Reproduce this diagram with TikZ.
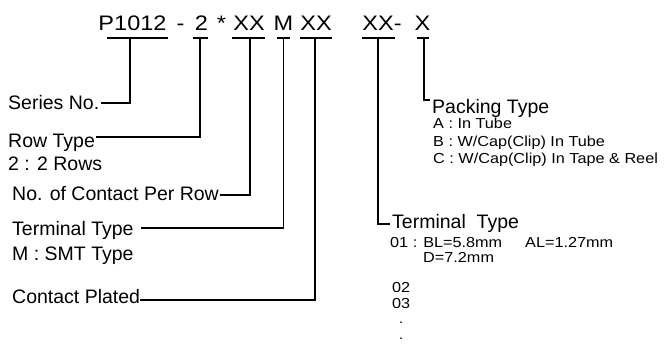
\documentclass[tikz,border=0pt]{standalone}
\usepackage{fontspec}
\usepackage{graphicx}
\setmainfont{Liberation Sans}
\usetikzlibrary{calc}
\newcommand\wideit[1]{\scalebox{1.12}[1]{#1}}
\begin{document}
\begin{tikzpicture}[x=1pt,y=-1pt,
  lbl/.style={font=\fontsize{19.5}{20}\selectfont, inner sep=0pt, anchor=base west},
  code/.style={font=\fontsize{21}{22}\selectfont, inner sep=0pt, anchor=base},
  sm/.style={font=\fontsize{14.5}{15}\selectfont, inner sep=0pt, anchor=base west},
  ln/.style={line width=1.35pt, black}]
\fill[white] (0,0) rectangle (667,354);
\useasboundingbox (0,0) rectangle (667,354);
% code line
\node[code] (p) at (132.5,30) {\wideit{P1012}};
\node[code] (d1) at (180.5,30) {\wideit{-}};
\node[code] (n2) at (201.5,30) {\wideit{2}};
\node[code] (st) at (221.5,30) {\wideit{*}};
\node[code] (xx1) at (249,30) {\wideit{XX}};
\node[code] (m) at (283.5,30) {\wideit{M}};
\node[code] (xx2) at (316,30) {\wideit{XX}};
\node[code] (xx3) at (382,30) {\wideit{XX-}};
\node[code] (x) at (422.5,30) {\wideit{X}};
% underlines
\draw[ln] (107,38) -- (168,38);
\draw[ln] (193,38) -- (208,38);
\draw[ln] (232,38) -- (265,38);
\draw[ln] (277,38) -- (290,38);
\draw[ln] (300,38) -- (332,38);
\draw[ln] (362,38) -- (395,38);
\draw[ln] (417,38) -- (429,38);
% left labels
\node[lbl] (s1) at (8,109) {Series No.};
\node[lbl] (s2) at (8,147) {Row Type};
\node[lbl] (s2b) at (8,170) {2 : 2 Rows};
\node[lbl] (s3) at (12,200) {No. of Contact Per Row};
\node[lbl] (s4) at (12,235) {Terminal Type};
\node[lbl] (s4b) at (12,260) {M : SMT Type};
\node[lbl] (s5) at (12,303) {Contact Plated};
% right labels
\node[lbl] (pk) at (432,113) {Packing Type};
\node[sm] (pa) at (433,128.5) {\wideit{A : In Tube}};
\node[sm] (pb) at (433,146) {\wideit{B : W/Cap(Clip) In Tube}};
\node[sm] (pc) at (433,163.5) {\wideit{C : W/Cap(Clip) In Tape \& Reel}};
\node[lbl] (tt) at (392,228) {Terminal\ \ Type};
\node[sm] (t1) at (390,247) {\wideit{01 : BL=5.8mm}};
\node[sm] (t1b) at (525,247) {\wideit{AL=1.27mm}};
\node[sm] (t1c) at (423,262) {\wideit{D=7.2mm}};
\node[sm] (t2) at (392,292) {\wideit{02}};
\node[sm] (t3) at (392,308) {\wideit{03}};
\node[sm] (dt1) at (399,323) {.};
\node[sm] (dt2) at (399,339) {.};
% connectors
\coordinate (u1) at (130,38); \coordinate (c1) at (130,103);
\coordinate (u2) at (200,38); \coordinate (c2) at (200,137);
\coordinate (u3) at (250,38); \coordinate (c3) at (250,195);
\coordinate (u4) at (283.5,38); \coordinate (c4) at (283.5,228);
\coordinate (u5) at (315,38); \coordinate (c5) at (315,300);
\coordinate (u6) at (378,38); \coordinate (c6) at (378,224);
\coordinate (u7) at (424,38); \coordinate (c7) at (424,100);
\draw[ln] (u1) -- (c1) -- ($(c1 -| s1.east)+(2,0)$);
\draw[ln] (u2) -- (c2) -- ($(c2 -| s2.east)+(0.5,0)$);
\draw[ln] (u3) -- (c3) -- ($(c3 -| s3.east)+(0.5,0)$);
\draw[ln] (u4) -- (c4) -- ($(c4 -| s4.east)+(7,0)$);
\draw[ln] (u5) -- (c5) -- ($(c5 -| s5.east)+(0,0)$);
\draw[ln] (u6) -- (c6) -- ($(c6 -| tt.west)+(-2,0)$);
\draw[ln] (u7) -- (c7) -- ($(c7 -| pk.west)+(-2,0)$);
\end{tikzpicture}
\end{document}
